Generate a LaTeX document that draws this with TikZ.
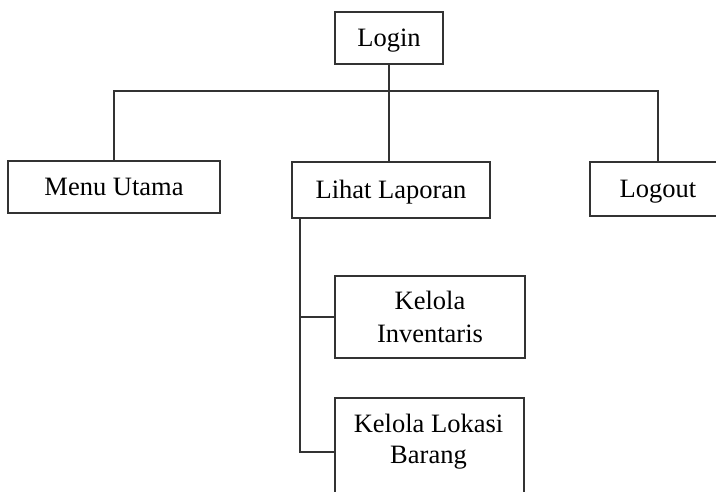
\documentclass[tikz,border=0pt]{standalone}
\usepackage{fontspec}
\setmainfont{Liberation Serif}
\begin{document}
\begin{tikzpicture}[x=1pt,y=-1pt,
  line width=2pt, draw=black!80,
  box/.style={draw=black!80, line width=2pt, rectangle, inner sep=0pt,
    font=\fontsize{26.5}{32}\selectfont, text=black},
  onebox/.style={box, text height=17.5pt, text depth=0pt},
  twobox/.style={box, align=center},
  lbl/.style={inner sep=0pt, align=center, font=\fontsize{26.5}{31}\selectfont, text=black}]
\useasboundingbox (0,0) rectangle (716,491);
% nodes
\node[onebox, minimum width=108pt, minimum height=52pt] (login) at (389,38) {Login};
\node[onebox, minimum width=212pt, minimum height=52pt] (menu) at (114,187) {Menu Utama};
\node[onebox, minimum width=198pt, minimum height=56pt] (lihat) at (391,190) {Lihat Laporan};
\node[onebox, minimum width=136pt, minimum height=54pt] (logout) at (658,189) {Logout};
\node[twobox, minimum width=190pt, minimum height=82pt, font=\fontsize{26.5}{33}\selectfont] (ki) at (430,317) {Kelola\\Inventaris};
\node[box, minimum width=189pt, minimum height=108pt, anchor=north west] (klb) at (334,397) {};
\node[lbl] (klbt) at (428.5,442) {Kelola Lokasi\\Barang};
% connectors
\coordinate (bar) at (389,91);
\draw (menu.north) |- (bar) -| (logout.north);
\draw (login.south) -- (login.south |- lihat.north);
\coordinate (trunk) at ([xshift=9pt]lihat.south west);
\draw (trunk) |- (klb.west);
\draw (ki.west) -- (ki.west -| trunk);
\end{tikzpicture}
\end{document}
